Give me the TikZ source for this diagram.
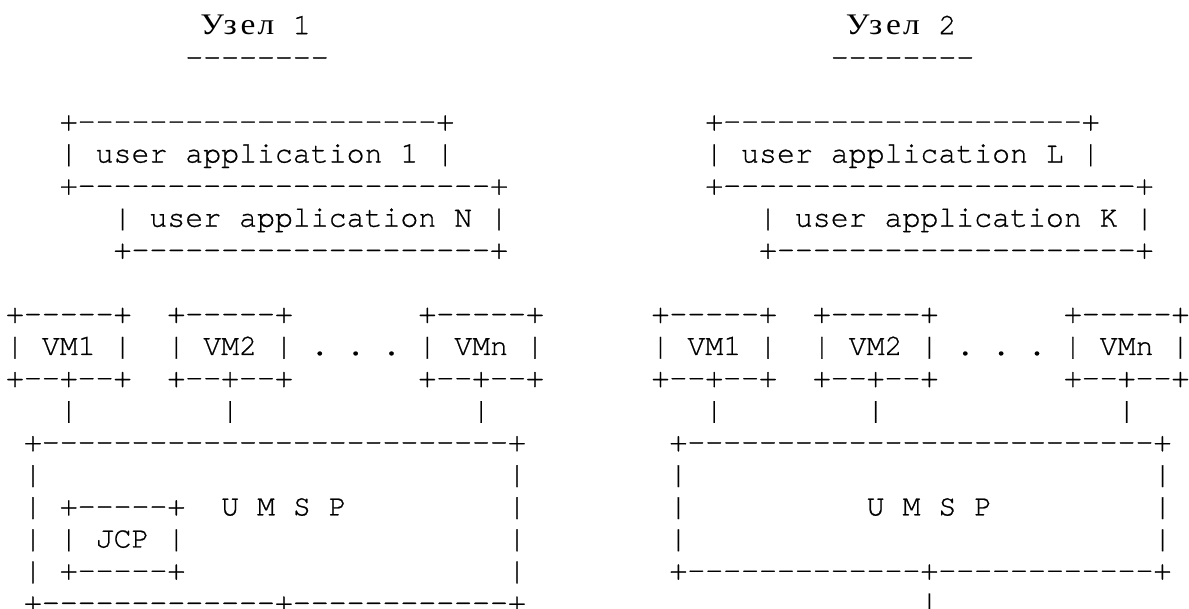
\documentclass[tikz,border=0pt]{standalone}
\usepackage{fontspec}
\newfontfamily\cur{texgyrecursor-regular}[Extension=.otf, FakeBold=0.7]
\newfontfamily\cyr{Liberation Serif}
\newcommand\tx[4]{\node[txt] (#1) at ({6.03+17.93*(#2)},{34.2+32.08*(#3)}) {#4};}
\newcommand\cc[1]{\makebox[17.93pt][c]{\scalebox{1.12}[1]{#1}}}
\newcommand\uzel{{\cyr\cc{У}\cc{з}\cc{е}\cc{л}}}
\begin{document}
\begin{tikzpicture}[x=1pt,y=-1pt,
  txt/.style={anchor=base west, inner sep=0pt, outer sep=0pt,
    font=\cur\fontsize{29.88}{32}\selectfont\frenchspacing}]
\fill[white] (0,0) rectangle (1189,609);
\useasboundingbox (0,0) rectangle (1189,609);
% titles
\tx{t1}{11}{0}{\uzel\ 1}
\tx{u1}{10}{1}{--------}
\tx{t2}{47}{0}{\uzel\ 2}
\tx{u2}{46}{1}{--------}
% ---------- left node ----------
\tx{La1}{3}{3}{+--------------------+}
\tx{La2}{3}{4}{| user application 1 |}
\tx{La3}{3}{5}{+-----------------------+}
\tx{La4}{6}{6}{| user application N |}
\tx{La5}{6}{7}{+--------------------+}
\tx{Lv1t}{0}{9}{+-----+}
\tx{Lv2t}{9}{9}{+-----+}
\tx{Lvnt}{23}{9}{+-----+}
\tx{Lv1}{0}{10}{| VM1 |}
\tx{Lv2}{9}{10}{| VM2 | . . . | VMn |}
\tx{Lv1b}{0}{11}{+--+--+}
\tx{Lv2b}{9}{11}{+--+--+}
\tx{Lvnb}{23}{11}{+--+--+}
\tx{Lc1}{3}{12}{|}
\tx{Lc2}{12}{12}{|}
\tx{Lc3}{26}{12}{|}
\tx{Lu1}{1}{13}{+--------------------------+}
\tx{Lu2l}{1}{14}{|}
\tx{Lu2r}{28}{14}{|}
\tx{Lu3l}{1}{15}{|}
\tx{Lj1}{3}{15}{+-----+}
\tx{Lumsp}{12}{15}{U M S P}
\tx{Lu3r}{28}{15}{|}
\tx{Lu4l}{1}{16}{|}
\tx{Lj2}{3}{16}{| JCP |}
\tx{Lu4r}{28}{16}{|}
\tx{Lu5l}{1}{17}{|}
\tx{Lj3}{3}{17}{+-----+}
\tx{Lu5r}{28}{17}{|}
\tx{Lu6}{1}{18}{+-------------+------------+}
% ---------- right node ----------
\tx{Ra1}{39}{3}{+--------------------+}
\tx{Ra2}{39}{4}{| user application L |}
\tx{Ra3}{39}{5}{+-----------------------+}
\tx{Ra4}{42}{6}{| user application K |}
\tx{Ra5}{42}{7}{+--------------------+}
\tx{Rv1t}{36}{9}{+-----+}
\tx{Rv2t}{45}{9}{+-----+}
\tx{Rvnt}{59}{9}{+-----+}
\tx{Rv1}{36}{10}{| VM1 |}
\tx{Rv2}{45}{10}{| VM2 | . . . | VMn |}
\tx{Rv1b}{36}{11}{+--+--+}
\tx{Rv2b}{45}{11}{+--+--+}
\tx{Rvnb}{59}{11}{+--+--+}
\tx{Rc1}{39}{12}{|}
\tx{Rc2}{48}{12}{|}
\tx{Rc3}{62}{12}{|}
\tx{Ru1}{37}{13}{+--------------------------+}
\tx{Ru2l}{37}{14}{|}
\tx{Ru2r}{64}{14}{|}
\tx{Ru3l}{37}{15}{|}
\tx{Rumsp}{48}{15}{U M S P}
\tx{Ru3r}{64}{15}{|}
\tx{Ru4l}{37}{16}{|}
\tx{Ru4r}{64}{16}{|}
\tx{Ru5}{37}{17}{+-------------+------------+}
\tx{Rd}{51}{18}{|}
\end{tikzpicture}
\end{document}
